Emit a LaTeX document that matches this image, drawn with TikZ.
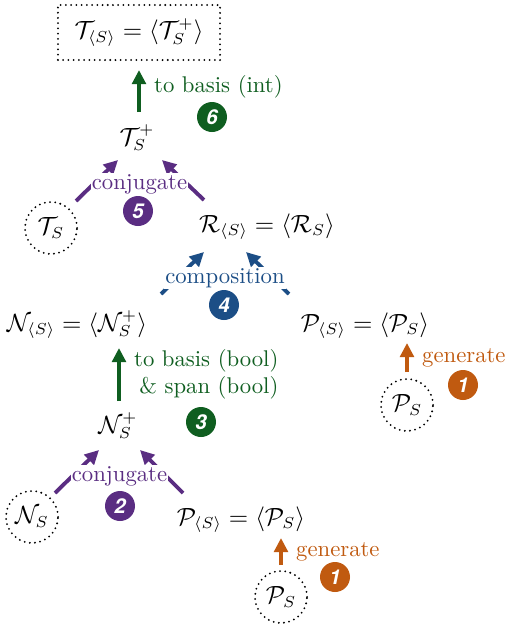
\documentclass[tikz,border=0pt]{standalone}
\usepackage{fontspec}
\usetikzlibrary{arrows.meta}
\newfontfamily\badgefont{TeX Gyre Heros}
\definecolor{stepgreen}{HTML}{0F5E20}
\definecolor{steppurple}{HTML}{5A2D82}
\definecolor{stepblue}{HTML}{1C4E86}
\definecolor{steporange}{HTML}{C05A10}

\begin{document}
\begin{tikzpicture}[x=0.44pt, y=-0.44pt, >={Triangle[length=6.2pt,width=6pt]},
  setnode/.style={inner sep=0pt, anchor=base, font=\fontsize{10.7}{12}\selectfont},
  given/.style={circle, draw, line width=0.9pt, dash pattern=on 0pt off 2.3pt,
    line cap=round, minimum size=22.9pt, inner sep=0pt, font=\fontsize{10.7}{12}\selectfont},
  resultbox/.style={draw, line width=0.9pt, dash pattern=on 0pt off 2.3pt,
    line cap=round, minimum width=71.3pt, minimum height=24.2pt, inner sep=0pt,
    font=\fontsize{10.7}{12}\selectfont},
  flow/.style={->, line width=1.7pt},
  steplabel/.style={inner sep=0.5pt, fill=white, anchor=base},
  edgelabel/.style={midway, right, xshift=2.5pt},
  badge/.style={circle, inner sep=0pt, minimum size=13.2pt, text=white,
    font=\badgefont\bfseries\itshape\fontsize{9}{9}\selectfont}]
  \useasboundingbox (0,0) rectangle (507,629);

  % ---- Top: result ----
  \node[resultbox] (tgen) at (139,32.5)
    {$\mathcal{T}_{\langle S\rangle} = \langle \mathcal{T}_S^+\rangle$};
  \node[setnode] (tplus) at (137,145) {$\mathcal{T}_S^+$};
  \node[given] (ts) at (51,228) {$\mathcal{T}_S$};
  \node[setnode] (rgen) at (267,232)
    {$\mathcal{R}_{\langle S\rangle} = \langle \mathcal{R}_S\rangle$};

  % ---- Middle ----
  \node[setnode] (ngen) at (77,331)
    {$\mathcal{N}_{\langle S\rangle} = \langle \mathcal{N}_S^+\rangle$};
  \node[setnode] (pgen) at (365,331)
    {$\mathcal{P}_{\langle S\rangle} = \langle \mathcal{P}_S\rangle$};
  \node[given] (ps) at (407,405) {$\mathcal{P}_S$};

  % ---- Bottom ----
  \node[setnode] (nplus) at (118,433) {$\mathcal{N}_S^+$};
  \node[given] (ns) at (32,517) {$\mathcal{N}_S$};
  \node[setnode] (pgenb) at (241,525)
    {$\mathcal{P}_{\langle S\rangle} = \langle \mathcal{P}_S\rangle$};
  \node[given] (psb) at (281,597) {$\mathcal{P}_S$};

  % step 6: to basis
  \draw[flow, stepgreen] ([shift={(2,-33)}]tplus.base) -- ([shift={(0,9)}]tgen.south)
    node[edgelabel, yshift=2pt, text=stepgreen] {to basis (int)};
  % step 5: conjugate
  \draw[flow, steppurple] ([shift={(25,-27)}]ts.center) -- ([shift={(-19,15)}]tplus.base);
  \draw[flow, steppurple] ([shift={(-63,-32)}]rgen.base) -- ([shift={(25,15)}]tplus.base);
  \node[steplabel, text=steppurple] (conjtop) at (139.5,189) {conjugate};
  % step 4: composition
  \draw[flow, stepblue] ([shift={(84,-37)}]ngen.base) -- ([shift={(-63,20)}]rgen.base);
  \draw[flow, stepblue] ([shift={(-76,-37)}]pgen.base) -- ([shift={(-21,20)}]rgen.base);
  \node[steplabel, text=stepblue] (compo) at (225,283) {composition};
  % step 1: generate (right)
  \draw[flow, steporange] ([shift={(0,-33)}]ps.center) -- ([shift={(42,12)}]pgen.base)
    node[edgelabel, text=steporange] {generate};
  % step 3: to basis & span
  \draw[flow, stepgreen] ([shift={(1,-32)}]nplus.base) -- ([shift={(42,17)}]ngen.base)
    node[edgelabel, align=right, text=stepgreen] {to basis (bool)\\\& span (bool)};
  % step 2: conjugate
  \draw[flow, steppurple] ([shift={(23,-24)}]ns.center) -- ([shift={(-19,17)}]nplus.base);
  \draw[flow, steppurple] ([shift={(-58,-32)}]pgenb.base) -- ([shift={(22,17)}]nplus.base);
  \node[steplabel, text=steppurple] (conjbot) at (119.5,481) {conjugate};
  % step 1: generate (bottom)
  \draw[flow, steporange] ([shift={(0,-32)}]psb.center) -- ([shift={(40,13)}]pgenb.base)
    node[edgelabel, text=steporange] {generate};

  % ---- Step badges ----
  \node[badge, fill=stepgreen] (b6) at (212,117) {6};
  \node[badge, fill=steppurple] (b5) at (138,211) {5};
  \node[badge, fill=stepblue] (b4) at (224,305) {4};
  \node[badge, fill=steporange] (b1) at (463,385) {1};
  \node[badge, fill=stepgreen] (b3) at (201,422) {3};
  \node[badge, fill=steppurple] (b2) at (120,506) {2};
  \node[badge, fill=steporange] (b1b) at (335,577) {1};
\end{tikzpicture}
\end{document}
